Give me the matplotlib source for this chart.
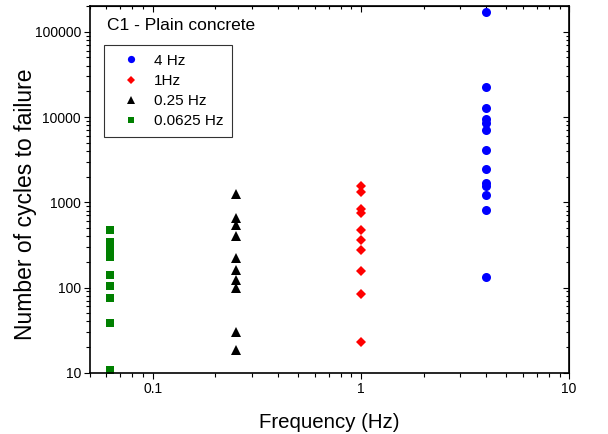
import matplotlib
matplotlib.use("Agg")
import matplotlib.pyplot as plt
from matplotlib.ticker import FuncFormatter, LogLocator, NullFormatter

plt.rcParams["font.family"] = ["Liberation Sans", "DejaVu Sans"]

FREQ_4HZ = 4.0
CYCLES_4HZ = [168700, 22300, 12850, 9550, 8500, 6980, 4140, 2460, 1670, 1570, 1210, 813, 132]

FREQ_1HZ = 1.0
CYCLES_1HZ = [1550, 1320, 830, 757, 474, 365, 279, 155, 84, 23]

FREQ_025HZ = 0.25
CYCLES_025HZ = [1250, 660, 540, 406, 223, 160, 124, 100, 30.2, 18.3]

FREQ_00625HZ = 0.0625
CYCLES_00625HZ = [474, 346, 303, 264, 231, 141, 103, 76, 38.3, 10.8]

SERIES = [
    ("4 Hz", FREQ_4HZ, CYCLES_4HZ, "o", "#0000ff", 6.5),
    ("1Hz", FREQ_1HZ, CYCLES_1HZ, "D", "#ff0000", 5.5),
    ("0.25 Hz", FREQ_025HZ, CYCLES_025HZ, "^", "#000000", 6.5),
    ("0.0625 Hz", FREQ_00625HZ, CYCLES_00625HZ, "s", "#008000", 5.2),
]


def plain_number(val, pos):
    if val >= 1:
        return f"{val:.0f}"
    return f"{val:g}"


def mirror_ticks(sec, axis):
    # top/right axes: ticks only, pointing inward
    sec.tick_params(which="both", direction="in", width=0.8)
    sec.tick_params(which="major", length=4)
    sec.tick_params(which="minor", length=2.5)
    axis.set_minor_locator(LogLocator(base=10, subs=range(2, 10)))
    axis.set_major_formatter(NullFormatter())
    axis.set_minor_formatter(NullFormatter())


def main() -> None:
    fig = plt.figure(figsize=(6.08, 4.34), dpi=100)
    ax = fig.add_axes([0.148, 0.141, 0.788, 0.845])

    for label, freq, cycles, marker, color, size in SERIES:
        ax.plot([freq] * len(cycles), cycles, linestyle="none", marker=marker,
                color=color, markersize=size, markeredgewidth=0, label=label)

    ax.set_xscale("log")
    ax.set_yscale("log")
    ax.set_xlim(0.05, 10)
    ax.set_ylim(10, 200000)

    ax.xaxis.set_major_formatter(FuncFormatter(plain_number))
    ax.yaxis.set_major_formatter(FuncFormatter(plain_number))
    ax.xaxis.set_minor_formatter(NullFormatter())
    ax.yaxis.set_minor_formatter(NullFormatter())
    ax.xaxis.set_minor_locator(LogLocator(base=10, subs=range(2, 10)))
    ax.yaxis.set_minor_locator(LogLocator(base=10, subs=range(2, 10)))

    ax.tick_params(which="both", direction="out", labelsize=10, width=0.8, pad=2.5)
    ax.tick_params(which="major", length=4)
    ax.tick_params(which="minor", length=3)

    top = ax.secondary_xaxis("top")
    mirror_ticks(top, top.xaxis)
    right = ax.secondary_yaxis("right")
    mirror_ticks(right, right.yaxis)

    for spine in ax.spines.values():
        spine.set_linewidth(1.2)

    ax.set_xlabel("Frequency (Hz)", fontsize=14.7, labelpad=12)
    ax.set_ylabel("Number of cycles to failure", fontsize=16.5)
    ax.yaxis.set_label_coords(-0.11, 0.46)

    ax.text(0.035, 0.948, "C1 - Plain concrete", transform=ax.transAxes,
            fontsize=12.5, ha="left", va="center")

    leg = ax.legend(loc="upper left", bbox_to_anchor=(0.029, 0.894), borderaxespad=0,
                    fontsize=11, frameon=True, fancybox=False, edgecolor="black",
                    markerscale=0.8, handletextpad=0.3, borderpad=0.58,
                    labelspacing=0.4, handlelength=2.4)
    leg.get_frame().set_linewidth(0.8)

    fig.savefig("out.png", dpi=100)
    plt.close(fig)


if __name__ == "__main__":
    main()
